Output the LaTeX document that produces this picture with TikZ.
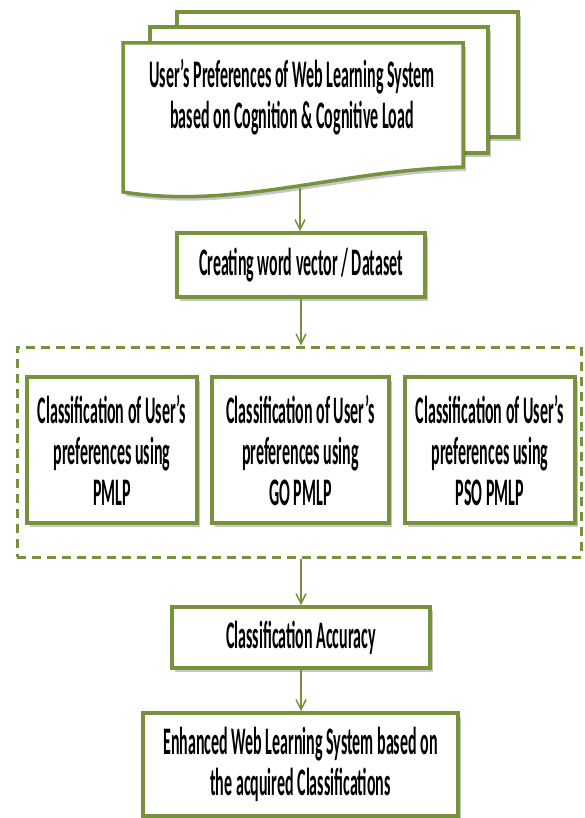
\documentclass[tikz,border=0pt]{standalone}
\usepackage{fontspec}
\newfontfamily\cf[FakeStretch=0.41]{Carlito}
\usetikzlibrary{arrows.meta,shadows}
\definecolor{olive}{HTML}{76923C}
\tikzset{
  shad/.style={drop shadow={shadow xshift=3pt, shadow yshift=-4pt, opacity=0.22, fill=black}},
  gbox/.style={draw=olive, line width=3.5pt, fill=white, shad, inner sep=0pt, align=center,
    font=\cf\fontsize{39}{41}\selectfont},
  lbl/.style={inner sep=0pt, align=center, font=\cf\fontsize{39}{41}\selectfont},
  arr/.style={draw=olive, line width=1.5pt, -{Straight Barb[length=10pt,width=10pt,line width=1.5pt]}},
  grpbox/.style={draw=olive, line width=3pt, dash pattern=on 9pt off 6pt, inner sep=0pt},
}
\begin{document}
\begin{tikzpicture}[x=1pt,y=-1pt]
\useasboundingbox (0,0) rectangle (585,818);
% stacked documents
\path[draw=olive, line width=3.5pt, fill=white, shad] (177,12) rectangle (518,137);
\path[draw=olive, line width=3.5pt, fill=white, shad] (150,27) rectangle (488,153);
\path[draw=olive, line width=3.5pt, fill=white, shad, line join=miter]
  (123,43) -- (463,43) -- (463,167)
  .. controls (340,170) and (235,210) .. (123,192) -- cycle;
\node[lbl] (doc) at (292,97) {\bfseries User’s Preferences of Web Learning System\\\bfseries based on Cognition \& Cognitive Load};
\coordinate (docb) at (300,188);
% boxes
\node[gbox, minimum width=248pt, minimum height=64pt] (create) at (301,265) {\bfseries Creating word vector / Dataset};
\node[grpbox, minimum width=564pt, minimum height=210pt] (grp) at (299,452) {};
\node[gbox, minimum width=170pt, minimum height=146pt] (c1) at (112,450) {\bfseries Classification of User’s\\\bfseries preferences using\\\bfseries PMLP};
\node[gbox, minimum width=177pt, minimum height=146pt] (c2) at (300.5,450) {\bfseries Classification of User’s\\\bfseries preferences using\\\bfseries GO PMLP};
\node[gbox, minimum width=170pt, minimum height=146pt] (c3) at (490,450) {\bfseries Classification of User’s\\\bfseries preferences using\\\bfseries PSO PMLP};
\node[gbox, minimum width=258pt, minimum height=61pt] (acc) at (301,637.5) {\bfseries Classification Accuracy};
\node[gbox, minimum width=315pt, minimum height=103pt] (enh) at (300.5,764.5) {\bfseries Enhanced Web Learning System based on\\\bfseries the acquired Classifications};
% arrows
\draw[arr] (docb) -- (docb |- create.north);
\draw[arr] (create.south) -- (create.south |- grp.north);
\draw[arr] (grp.south -| acc.north) -- (acc.north);
\draw[arr] (acc.south) -- (acc.south |- enh.north);
\end{tikzpicture}
\end{document}
